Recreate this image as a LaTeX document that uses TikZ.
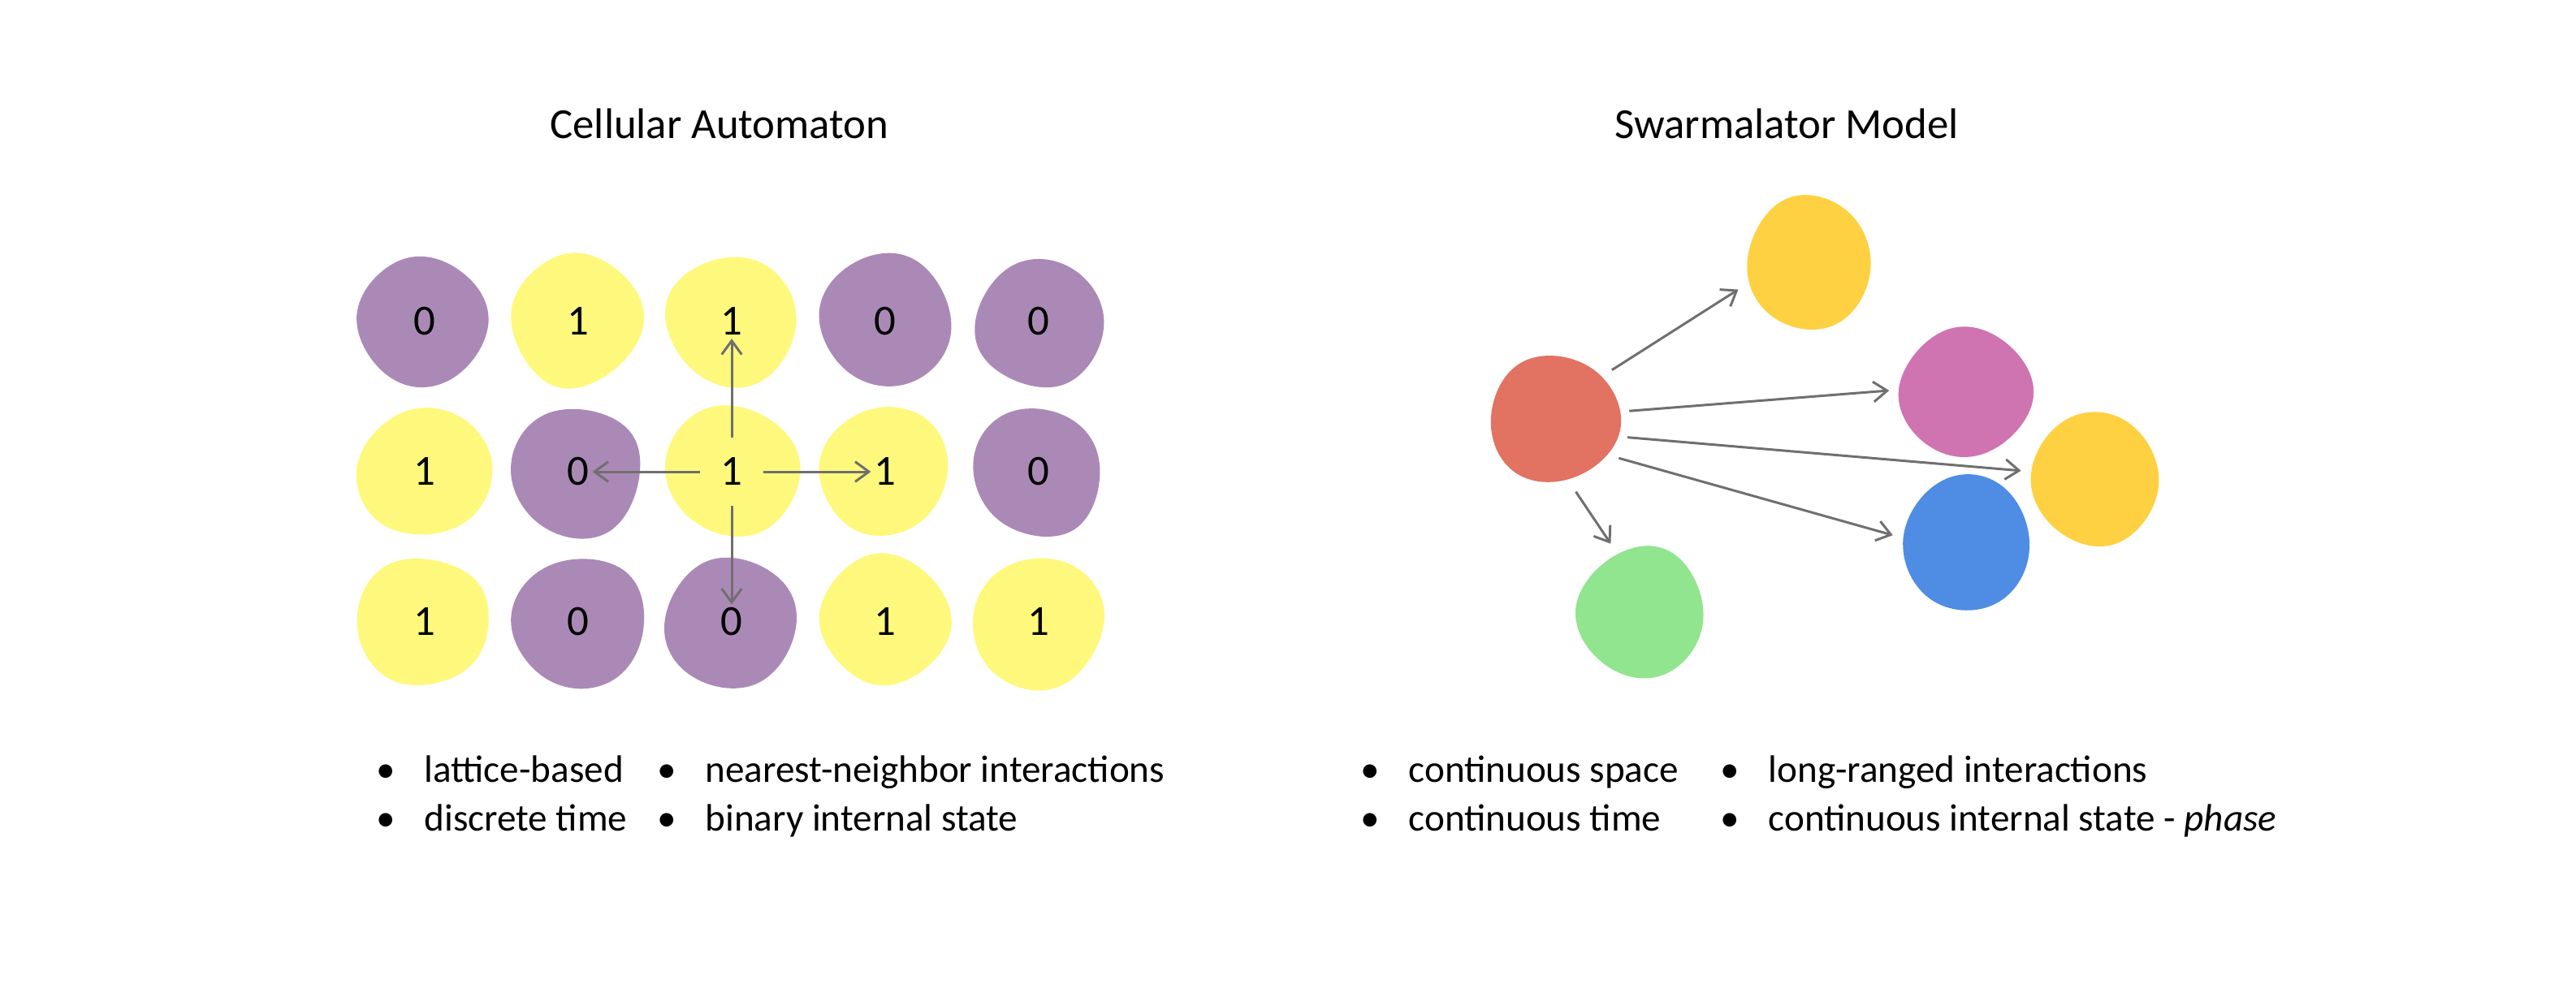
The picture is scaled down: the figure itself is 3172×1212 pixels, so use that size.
\documentclass[tikz,border=0pt]{standalone}
\usepackage{fontspec}
\setmainfont{Carlito}
\usepackage{xcolor}
\usepackage{tikz}
\usetikzlibrary{arrows.meta}
\definecolor{cell0}{HTML}{AB89B7}
\definecolor{cell1}{HTML}{FEF97D}
\definecolor{swred}{HTML}{E27262}
\definecolor{swgold}{HTML}{FED142}
\definecolor{swpink}{HTML}{CF74B0}
\definecolor{swblue}{HTML}{4F8DE4}
\definecolor{swgreen}{HTML}{91E58E}
\definecolor{arrgray}{HTML}{6F6F6F}
\newcommand{\blob}[3]{%
  \pgfmathsetseed{#3}%
  \fill[#2, shift={#1}] plot[smooth cycle, tension=0.72, domain=0:300, samples=6] ({\x+10*rnd}:{75+10*rnd});
}
\newcommand{\bul}{\llap{•\hspace{0.75em}}}

\begin{document}
\begin{tikzpicture}[x=0.01cm, y=-0.01cm,
  title/.style={anchor=base, font=\fontsize{15pt}{18pt}\selectfont},
  digit/.style={inner sep=1pt, font=\fontsize{15pt}{18pt}\selectfont},
  point/.style={anchor=base west, inner sep=0pt, font=\fontsize{13.4pt}{16pt}\selectfont},
  agent/.style={circle, minimum size=1.86cm, inner sep=0pt},
  arr/.style={draw=arrgray, line width=0.85pt, -{Straight Barb[length=4.8pt, width=7pt]}}]
  \useasboundingbox (0,0) rectangle (3172,1212);

  \node[title] (ca) at (886,170) {Cellular Automaton};
  \node[title] (sm) at (2200,170) {Swarmalator Model};

  \foreach \row [count=\j] in {{0,1,1,0,0},{1,0,1,1,0},{1,0,0,1,1}} {
    \foreach \v [count=\i] in \row {
      \pgfmathsetmacro\cx{334+189*\i}
      \pgfmathsetmacro\cy{211+185*\j}
      \blob{(\cx,\cy)}{cell\v}{\j\i}
      \node[digit] (c\j\i) at (\cx,\cy) {\v};
    }
  }
  \draw[arr, shorten <=6pt] (c23) to (c13);
  \draw[arr, shorten <=6pt] (c23) to (c22);
  \draw[arr, shorten <=6pt] (c23) to (c24);
  \draw[arr, shorten <=6pt] (c23) to (c33);

  \blob{(1913,516)}{swred}{41}
  \blob{(2228,323)}{swgold}{42}
  \blob{(2420,481)}{swpink}{43}
  \blob{(2582,588)}{swgold}{44}
  \blob{(2424,669)}{swblue}{45}
  \blob{(2020,756)}{swgreen}{46}
  \node[agent] (red) at (1913,516) {};
  \node[agent] (topgold) at (2228,323) {};
  \node[agent] (pink) at (2420,481) {};
  \node[agent] (sidegold) at (2582,588) {};
  \node[agent] (blue) at (2424,669) {};
  \node[agent] (green) at (2020,756) {};
  \draw[arr] (red.40) to (topgold.201);
  \draw[arr] (red.6) to (pink.180);
  \draw[arr] (red.-14) to (sidegold.175);
  \draw[arr] (red.-31) to (blue.174);
  \draw[arr] (red.-73) to (green.113);

  \node[point] (l1) at (522,963) {\bul lattice-based};
  \node[point] (l2) at (522,1023) {\bul discrete time};
  \node[point] (l3) at (868,963) {\bul nearest-neighbor interactions};
  \node[point] (l4) at (868,1023) {\bul binary internal state};
  \node[point] (r1) at (1734,963) {\bul continuous space};
  \node[point] (r2) at (1734,1023) {\bul continuous time};
  \node[point] (r3) at (2177,963) {\bul long-ranged interactions};
  \node[point] (r4) at (2177,1023) {\bul continuous internal state - \textit{phase}};
\end{tikzpicture}
\end{document}
